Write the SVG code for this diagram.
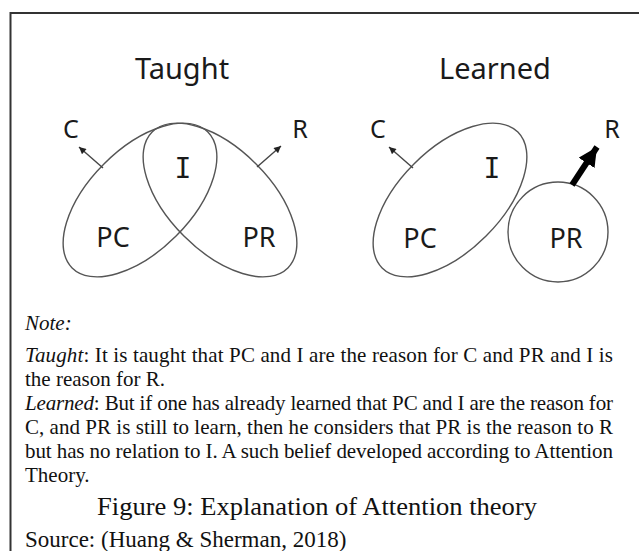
<svg xmlns="http://www.w3.org/2000/svg" width="639" height="551" viewBox="0 0 639 551">
<style>
.bg{fill:#fff}
.frame{stroke:#333;stroke-width:2;fill:none}
.shape{fill:none;stroke:#555;stroke-width:1.4}
.lbl{font-family:"Noto Sans","DejaVu Sans",sans-serif;fill:#1a1a1a;text-anchor:middle}
.title{font-size:29px}
.big{font-size:27px}
.cr{font-size:25px}
.ii{font-family:"DejaVu Sans Mono",monospace;font-size:28px;fill:#1a1a1a;text-anchor:middle}
.thin{stroke:#444;stroke-width:1.4;fill:none}
.thick{stroke:#000;stroke-width:6;fill:none}
.body{font-family:"Liberation Serif","Times New Roman",serif;font-size:21px;fill:#111}
.it{font-style:italic}
</style>
<defs>
<marker id="ah" viewBox="0 0 10 10" refX="10" refY="5" markerWidth="8" markerHeight="7" markerUnits="userSpaceOnUse" orient="auto">
<path d="M0,0 L10,5 L0,10 z" fill="#222"/>
</marker>
<marker id="bh" viewBox="0 0 10 10" refX="10" refY="5" markerWidth="19" markerHeight="19" markerUnits="userSpaceOnUse" orient="auto">
<path d="M0,0 L10,5 L0,10 z" fill="#000"/>
</marker>
</defs>
<rect class="bg" x="0" y="0" width="639" height="551"/>
<path class="frame" d="M10.5,551 V13 H639"/>

<g id="taught">
<text class="lbl title" x="182" y="79">Taught</text>
<g id="taught-PC"><ellipse class="shape" cx="140" cy="200" rx="96" ry="51" transform="rotate(-45 140 200)"/><text class="lbl big" x="113" y="247">PC</text></g>
<g id="taught-PR"><ellipse class="shape" cx="220" cy="200" rx="96" ry="51" transform="rotate(45 220 200)"/><text class="lbl big" x="259" y="247">PR</text></g>
<g id="taught-I"><text class="ii" x="183" y="178">I</text></g>
<g id="taught-C"><text class="lbl cr" x="71" y="138">C</text></g>
<g id="taught-R"><text class="lbl cr" x="300" y="138">R</text></g>
</g>

<g id="learned">
<text class="lbl title" x="495" y="79">Learned</text>
<g id="learned-PC"><ellipse class="shape" cx="450" cy="200" rx="96" ry="51" transform="rotate(-45 450 200)"/><text class="lbl big" x="420" y="248">PC</text></g>
<g id="learned-PR"><circle class="shape" cx="558" cy="232" r="50"/><text class="lbl big" x="566" y="248">PR</text></g>
<g id="learned-I"><text class="ii" x="492" y="178">I</text></g>
<g id="learned-C"><text class="lbl cr" x="378" y="138">C</text></g>
<g id="learned-R"><text class="lbl cr" x="612" y="138">R</text></g>
</g>

<g id="connectors">
<line class="thin" x1="103" y1="168" x2="79" y2="147" marker-end="url(#ah)"/>
<line class="thin" x1="257" y1="167" x2="281" y2="146" marker-end="url(#ah)"/>
<line class="thin" x1="413" y1="168" x2="389" y2="147" marker-end="url(#ah)"/>
<line class="thick" x1="572" y1="185" x2="597" y2="147" marker-end="url(#bh)"/>
</g>

<g id="note">
<text class="body it" x="25" y="330">Note:</text>
<text class="body" x="25" y="362" textLength="588" lengthAdjust="spacing"><tspan class="it">Taught</tspan>: It is taught that PC and I are the reason for C and PR and I is</text>
<text class="body" x="25" y="386">the reason for R.</text>
<text class="body" x="25" y="410" textLength="588" lengthAdjust="spacing"><tspan class="it">Learned</tspan>: But if one has already learned that PC and I are the reason for</text>
<text class="body" x="25" y="434" textLength="588" lengthAdjust="spacing">C, and PR is still to learn, then he considers that PR is the reason to R</text>
<text class="body" x="25" y="458" textLength="588" lengthAdjust="spacing">but has no relation to I. A such belief developed according to Attention</text>
<text class="body" x="25" y="482">Theory.</text>
<text class="body" x="97" y="515" style="font-size:26px" textLength="440" lengthAdjust="spacingAndGlyphs">Figure 9: Explanation of Attention theory</text>
<text class="body" x="25" y="547" style="font-size:23px">Source: (Huang &amp; Sherman, 2018)</text>
</g>
</svg>
